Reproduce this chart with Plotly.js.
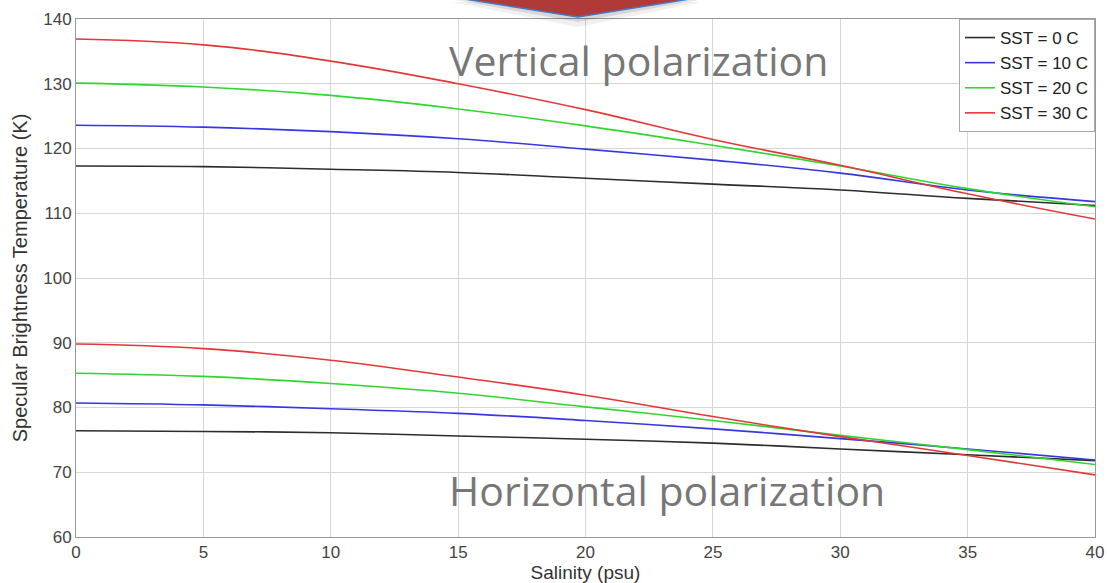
<!DOCTYPE html>
<html>
<head>
<meta charset="utf-8">
<script src="https://cdn.plot.ly/plotly-3.0.1.min.js"></script>
<style>html,body{margin:0;padding:0;background:#fff;}#chart{width:1107px;height:583px;}</style>
</head>
<body>
<div id="chart"></div>
<script>
// Salinity (psu)
const salinity = [0, 5, 10, 15, 20, 25, 30, 35, 40];
const seriesNames = ["SST = 0 C", "SST = 10 C", "SST = 20 C", "SST = 30 C"];

// Vertical polarization (K)
const vert_0C  = [117.3, 117.2, 116.8, 116.3, 115.4, 114.5, 113.6, 112.3, 111.2];
const vert_10C = [123.6, 123.3, 122.6, 121.5, 119.9, 118.2, 116.2, 113.6, 111.8];
const vert_20C = [130.1, 129.5, 128.2, 126.1, 123.5, 120.5, 117.3, 113.8, 111.0];
const vert_30C = [136.9, 136.0, 133.5, 130.0, 126.0, 121.4, 117.4, 113.0, 109.1];

// Horizontal polarization (K)
const horiz_0C  = [76.4, 76.3, 76.1, 75.6, 75.1, 74.5, 73.6, 72.7, 71.8];
const horiz_10C = [80.7, 80.4, 79.8, 79.1, 78.0, 76.7, 75.2, 73.6, 71.9];
const horiz_20C = [85.3, 84.8, 83.7, 82.2, 80.1, 78.0, 75.7, 73.5, 71.2];
const horiz_30C = [89.8, 89.1, 87.3, 84.7, 81.9, 78.6, 75.5, 72.6, 69.6];

const xTicks = [0, 5, 10, 15, 20, 25, 30, 35, 40];
const yTicks = [60, 70, 80, 90, 100, 110, 120, 130, 140];

const colors = ["rgb(45,45,45)", "rgb(55,55,225)", "rgb(45,215,45)", "rgb(228,55,55)"];
const vert = [vert_0C, vert_10C, vert_20C, vert_30C];
const horiz = [horiz_0C, horiz_10C, horiz_20C, horiz_30C];

const traces = [];
for (let i = 0; i < 4; i++) {
  traces.push({
    x: salinity, y: vert[i], type: "scatter", mode: "lines",
    name: seriesNames[i], legendgroup: "g" + i,
    line: {color: colors[i], width: 1.6, shape: "spline", smoothing: 1.2}
  });
}
for (let i = 0; i < 4; i++) {
  traces.push({
    x: salinity, y: horiz[i], type: "scatter", mode: "lines",
    name: seriesNames[i], legendgroup: "g" + i, showlegend: false,
    line: {color: colors[i], width: 1.6, shape: "spline", smoothing: 1.2}
  });
}

const L = 76, R = 12, T = 19, B = 46, W = 1107, H = 583;
const pw = W - L - R, ph = H - T - B;
function px(x) { return (x - L) / pw; }
function py(y) { return (H - B - y) / ph; }

const arrowPath = (dx, dy, grow) =>
  "M " + px(458 - grow + dx) + " " + py(-2 + dy) +
  " L " + px(696 + grow + dx) + " " + py(-2 + dy) +
  " L " + px(578 + dx) + " " + py(17 + grow + dy) + " Z";

const layout = {
  width: W, height: H,
  margin: {l: L, r: R, t: T, b: B},
  paper_bgcolor: "#fff", plot_bgcolor: "#fff",
  font: {family: "Arial, Liberation Sans, sans-serif", color: "#333"},
  showlegend: true,
  legend: {
    x: 1, xanchor: "right", y: 1, yanchor: "top",
    bgcolor: "#fff", bordercolor: "#aaa", borderwidth: 1,
    font: {family: "Arial, Liberation Sans, sans-serif", size: 17, color: "#222"},
    tracegroupgap: 0, itemwidth: 30
  },
  xaxis: {
    range: [0, 40], tickvals: xTicks, ticktext: xTicks.map(String),
    showgrid: true, gridcolor: "#d6d6d6", gridwidth: 1,
    zeroline: false, showline: true, linecolor: "#999", linewidth: 1, mirror: true,
    ticks: "", tickfont: {size: 17, color: "#444"},
    title: {text: "Salinity (psu)", font: {size: 19, color: "#333"}, standoff: 0}
  },
  yaxis: {
    range: [60, 140], tickvals: yTicks, ticktext: yTicks.map(String),
    showgrid: true, gridcolor: "#d6d6d6", gridwidth: 1,
    zeroline: false, showline: true, linecolor: "#999", linewidth: 1, mirror: true,
    ticks: "", tickfont: {size: 17, color: "#444"},
    title: {text: "Specular Brightness Temperature (K)", font: {size: 20, color: "#333"}, standoff: 10}
  },
  annotations: [
    {xref: "x", yref: "y", x: 14.55, y: 133.6, xanchor: "left", yanchor: "middle",
     text: "Vertical polarization", showarrow: false,
     font: {family: "Open Sans, Noto Sans, sans-serif", size: 41, color: "#777"}},
    {xref: "x", yref: "y", x: 14.55, y: 67.2, xanchor: "left", yanchor: "middle",
     text: "Horizontal polarization", showarrow: false,
     font: {family: "Open Sans, Noto Sans, sans-serif", size: 41, color: "#777"}}
  ],
  shapes: [
    {type: "path", xref: "paper", yref: "paper", path: arrowPath(0, 4, 6),
     fillcolor: "rgba(0,0,0,0.06)", line: {width: 0}, layer: "above"},
    {type: "path", xref: "paper", yref: "paper", path: arrowPath(0, 2, 3),
     fillcolor: "rgba(0,0,0,0.10)", line: {width: 0}, layer: "above"},
    {type: "path", xref: "paper", yref: "paper", path: arrowPath(0, 0, 0),
     fillcolor: "rgb(176,58,56)", line: {color: "rgb(70,120,200)", width: 1.5}, layer: "above"}
  ]
};

Plotly.newPlot("chart", traces, layout, {displayModeBar: false, staticPlot: true});
</script>
</body>
</html>
